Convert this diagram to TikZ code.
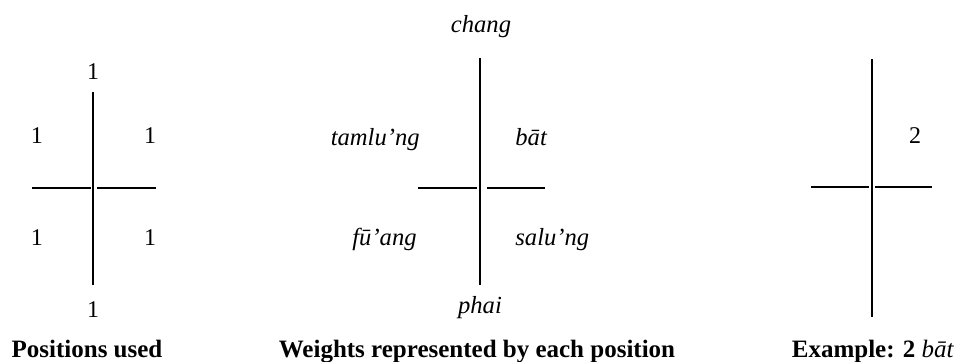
\documentclass[tikz,border=0pt]{standalone}
\usepackage{fontspec}
\setmainfont{Liberation Serif}
\begin{document}
\begin{tikzpicture}[x=0.5pt,y=-0.5pt,
  lbl/.style={inner sep=0pt,font=\fontsize{12}{14}\selectfont},
  wlbl/.style={lbl,font=\fontsize{12.3}{14}\selectfont\itshape},
  captext/.style={lbl,font=\fontsize{12.5}{14}\selectfont\bfseries,anchor=base},
  rule/.style={line width=0.7pt,black}]
\useasboundingbox (0,0) rectangle (959,361);
% ---------- left figure ----------
\coordinate (Lt) at (93,92);  \coordinate (Lb) at (93,285);
\coordinate (Lh1) at (32,188); \coordinate (Lh2) at (91,188);
\coordinate (Lh3) at (97,188); \coordinate (Lh4) at (156,188);
\draw[rule] (Lt) -- (Lb);
\draw[rule] (Lh1) -- (Lh2);
\draw[rule] (Lh3) -- (Lh4);
\node[lbl,anchor=base] (n1) at (93,79) {1};
\node[lbl,anchor=base] (n2) at (37,143) {1};
\node[lbl,anchor=base] (n3) at (150,143) {1};
\node[lbl,anchor=base] (n4) at (37,245) {1};
\node[lbl,anchor=base] (n5) at (150,245) {1};
\node[lbl,anchor=base] (n6) at (93,317) {1};
\node[captext] (c1) at (87,357) {Positions used};
% ---------- middle figure ----------
\coordinate (Mt) at (480,58);  \coordinate (Mb) at (480,285);
\coordinate (Mh1) at (418,188); \coordinate (Mh2) at (477,188);
\coordinate (Mh3) at (487,188); \coordinate (Mh4) at (545,188);
\draw[rule] (Mt) -- (Mb);
\draw[rule] (Mh1) -- (Mh2);
\draw[rule] (Mh3) -- (Mh4);
\node[wlbl,anchor=base] (w1) at (481,32) {chang};
\node[wlbl,anchor=base east] (w2) at (420,145) {tamlu’ng};
\node[wlbl,anchor=base west] (w3) at (515,145) {bāt};
\node[wlbl,anchor=base east] (w4) at (417,245) {fū’ang};
\node[wlbl,anchor=base west] (w5) at (515,245) {salu’ng};
\node[wlbl,anchor=base] (w6) at (480,313) {phai};
\node[captext] (c2) at (477,357) {Weights represented by each position};
% ---------- right figure ----------
\coordinate (Rt) at (872,59);  \coordinate (Rb) at (872,317);
\coordinate (Rh1) at (811,187); \coordinate (Rh2) at (869,187);
\coordinate (Rh3) at (875,187); \coordinate (Rh4) at (932,187);
\draw[rule] (Rt) -- (Rb);
\draw[rule] (Rh1) -- (Rh2);
\draw[rule] (Rh3) -- (Rh4);
\node[lbl,anchor=base] (r1) at (915,143) {2};
\node[captext] (c3) at (873,357) {Example: 2 \textit{\mdseries bāt}};
\end{tikzpicture}
\end{document}
